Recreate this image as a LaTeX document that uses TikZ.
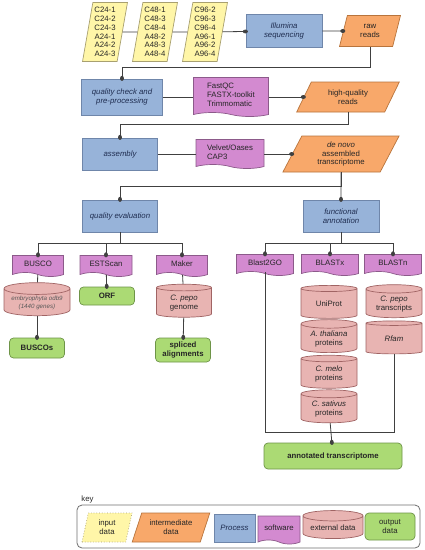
\documentclass[tikz,border=0pt]{standalone}
\usepackage{fontspec}
\setmainfont{Liberation Sans}
\usetikzlibrary{shapes.geometric,shapes.symbols,arrows.meta}
\definecolor{inpF}{HTML}{FFF6A8}
\definecolor{inpD}{HTML}{A8A070}
\definecolor{intF}{HTML}{F8A86A}
\definecolor{intD}{HTML}{B8743C}
\definecolor{proF}{HTML}{97B3D9}
\definecolor{proD}{HTML}{6F86AA}
\definecolor{proT}{HTML}{1F2D50}
\definecolor{swF}{HTML}{D38AD0}
\definecolor{swD}{HTML}{8C5A8A}
\definecolor{extF}{HTML}{E8B4B2}
\definecolor{extD}{HTML}{A06464}
\definecolor{outF}{HTML}{ABDA74}
\definecolor{outD}{HTML}{6E9448}
\definecolor{lineC}{HTML}{404040}
\definecolor{keyD}{HTML}{707070}
\begin{document}
\begin{tikzpicture}[x=1pt,y=-1pt,
  base/.style={font=\fontsize{7.8}{8.7}\selectfont, text=black!85, inner sep=1pt, align=center, line width=0.7pt},
  para/.style 2 args={base, trapezium, trapezium stretches=true, trapezium left angle=#1, trapezium right angle=#2, draw=intD, fill=intF},
  inp/.style={para={79}{101}, draw=inpD, fill=inpF},
  process/.style={base, rectangle, draw=proD, fill=proF, text=proT, font=\fontsize{7.8}{8.7}\selectfont\itshape},
  software/.style={base, tape, tape bend top=none, tape bend bottom=out and in, tape bend height=4pt, draw=swD, fill=swF},
  external/.style={base, cylinder, shape border rotate=90, aspect=0.22, draw=extD, fill=extF},
  output/.style={base, rectangle, rounded corners=4pt, draw=outD, fill=outF, font=\fontsize{7.8}{8.7}\selectfont\bfseries},
  conn/.style={lineC, line width=0.8pt},
  dotc/.style={lineC, line width=0.8pt, -{Ellipse[length=5pt,width=3.8pt]}, shorten >=-2.2pt}
]
\useasboundingbox (0,0) rectangle (425,550);
\fill[white] (0,0) rectangle (425,550);

% input data
\node[inp, minimum width=45, minimum height=59] (c24) at (105,32) {C24-1\\C24-2\\C24-3\\A24-1\\A24-2\\A24-3};
\node[inp, minimum width=45, minimum height=59] (c48) at (155,32) {C48-1\\C48-3\\C48-4\\A48-2\\A48-3\\A48-4};
\node[inp, minimum width=45, minimum height=59] (c96) at (205,32) {C96-2\\C96-3\\C96-4\\A96-1\\A96-2\\A96-4};

\node[process, minimum width=76, minimum height=33] (illu) at (284,31) {Illumina\\sequencing};
\node[para={76}{104}, minimum width=61, minimum height=31] (raw) at (370,31) {raw\\reads};

\node[process, minimum width=81, minimum height=36] (qc) at (122,97) {quality check and\\pre-processing};
\node[software, minimum width=75, minimum height=39, align=left] (fastqc) at (231,95) {FastQC\\FASTX-toolkit\\Trimmomatic};
\node[para={63}{117}, minimum width=103, minimum height=30] (hq) at (348,97) {high-quality\\reads};

\node[process, minimum width=75, minimum height=32] (asm) at (120,154) {assembly};
\node[software, minimum width=68, minimum height=29, align=left] (velvet) at (230,152) {Velvet/Oases\\CAP3};
\node[para={66}{114}, minimum width=117, minimum height=36] (denovo) at (341,154) {\textit{de novo}\\assembled\\transcriptome};

\node[process, minimum width=75, minimum height=32] (qe) at (120,216) {quality evaluation};
\node[process, minimum width=76, minimum height=32] (fa) at (341,216) {functional\\annotation};

% left branch
\node[software, minimum width=51, minimum height=21] (busco) at (38,264) {BUSCO};
\node[software, minimum width=52, minimum height=21] (estscan) at (106,264) {ESTScan};
\node[software, minimum width=51, minimum height=21] (maker) at (182,264) {Maker};
\node[external, minimum width=66, minimum height=33, text=black!65, font=\fontsize{6.2}{7.6}\selectfont\itshape] (embryo) at (37,303) {embryophyta odb9\\(1440 genes)};
\node[output, minimum width=55, minimum height=18] (orf) at (107,296) {ORF};
\node[external, minimum width=55, minimum height=33] (genome) at (184,303) {\textit{C. pepo}\\genome};
\node[output, minimum width=55, minimum height=20] (buscos) at (37,348) {BUSCOs};
\node[output, minimum width=55, minimum height=24] (spliced) at (183,350) {spliced\\alignments};

% right branch
\node[software, minimum width=57, minimum height=21] (b2g) at (265,263) {Blast2GO};
\node[software, minimum width=57, minimum height=21] (blastx) at (330,263) {BLASTx};
\node[software, minimum width=57, minimum height=21] (blastn) at (393,263) {BLASTn};
\node[external, minimum width=56, minimum height=33] (uniprot) at (329,304) {UniProt};
\node[external, minimum width=56, minimum height=33] (athal) at (329,339) {\textit{A. thaliana}\\proteins};
\node[external, minimum width=56, minimum height=33] (cmelo) at (329,374) {\textit{C. melo}\\proteins};
\node[external, minimum width=56, minimum height=33] (csat) at (329,409) {\textit{C. sativus}\\proteins};
\node[external, minimum width=56, minimum height=33] (cpt) at (394,304) {\textit{C. pepo}\\transcripts};
\node[external, minimum width=56, minimum height=33] (rfam) at (394,339) {\textit{Rfam}};
\node[output, minimum width=138, minimum height=26] (annot) at (333,456) {annotated transcriptome};

% junction levels
\coordinate (j1) at (0,67);
\coordinate (j2) at (0,124);
\coordinate (j3) at (0,186);
\coordinate (j5) at (0,243);
\coordinate (j4) at (0,432);

% connectors
\draw[conn] (c24) -- (c48);
\draw[conn] (c48) -- (c96);
\draw[dotc] (c96) -- (illu);
\draw[dotc] (illu) -- (raw);
\draw[dotc] (raw.south) |- (j1 -| qc.north) -- (qc.north);
\draw[conn] (qc.east) -- (qc.east -| fastqc.west);
\draw[dotc] (hq.west -| fastqc.east) -- (hq.west);
\draw[dotc] (hq.south) |- (j2 -| asm.north) -- (asm.north);
\draw[conn] (asm.east) -- (asm.east -| velvet.west);
\draw[dotc] (denovo.west -| velvet.east) -- (denovo.west);
\draw[dotc] (denovo.south) |- (j3 -| qe.north) -- (qe.north);
\draw[dotc] (denovo.south) -- (fa.north);

\draw[conn] (qe.south) -- (qe.south |- j5);
\draw[conn] (j5 -| busco.north) -- (j5 -| maker.north);
\draw[dotc] (j5 -| busco.north) -- (busco.north);
\draw[dotc] (j5 -| estscan.north) -- (estscan.north);
\draw[dotc] (j5 -| maker.north) -- (maker.north);
\draw[conn] (busco) -- (embryo);
\draw[dotc] (embryo) -- (buscos);
\draw[dotc] (estscan) -- (orf);
\draw[conn] (maker) -- (genome);
\draw[dotc] (genome) -- (spliced);

\draw[conn] (fa.south) -- (fa.south |- j5);
\draw[conn] (j5 -| b2g.north) -- (j5 -| blastn.north);
\draw[dotc] (j5 -| b2g.north) -- (b2g.north);
\draw[dotc] (j5 -| blastx.north) -- (blastx.north);
\draw[dotc] (j5 -| blastn.north) -- (blastn.north);
\draw[conn] (b2g.south) |- (j4 -| rfam.south) -- (rfam.south);
\draw[dotc] (csat) -- (annot);

% key
\node[base, anchor=west, font=\fontsize{7.8}{8.7}\selectfont] (keylbl) at (80,499) {key};
\node[draw=keyD, line width=0.8pt, rounded corners=5pt, minimum width=343, minimum height=43] (keybox) at (248.5,526.5) {};
\node[inp, dotted, minimum width=50, minimum height=29] (kin) at (107,527.5) {input\\data};
\node[para={66}{114}, minimum width=78, minimum height=29] (kint) at (171,527.5) {intermediate\\data};
\node[process, minimum width=41, minimum height=28] (kpro) at (234.5,528) {Process};
\node[software, minimum width=42, minimum height=28] (ksw) at (279,528) {software};
\node[external, minimum width=60, minimum height=28] (kext) at (333,528) {external data};
\node[output, font=\fontsize{7.8}{8.7}\selectfont, minimum width=50, minimum height=27] (kout) at (390,526.5) {output\\data};
\end{tikzpicture}
\end{document}
